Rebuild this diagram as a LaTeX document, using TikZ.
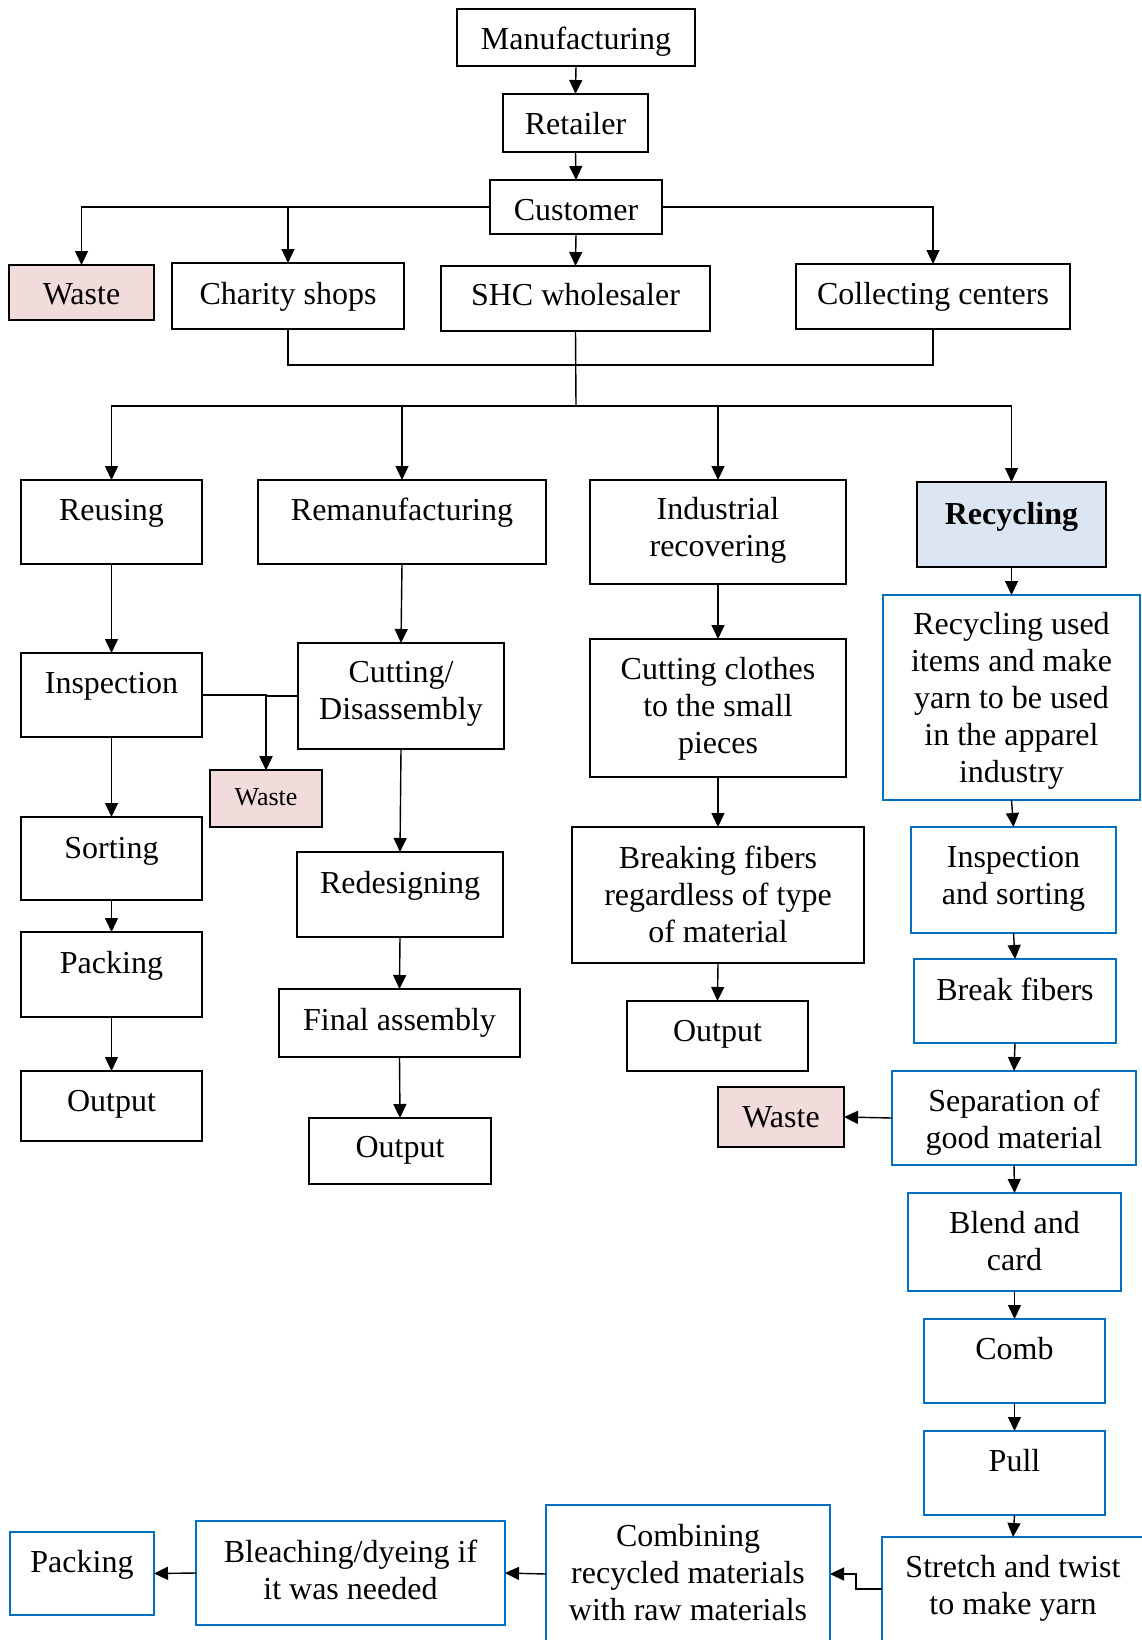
\documentclass[tikz,border=0pt]{standalone}
\usepackage{fontspec}
\setmainfont{Liberation Serif}
\usetikzlibrary{arrows.meta,calc}
\definecolor{myblue}{RGB}{0,112,192}
\definecolor{wastefill}{RGB}{242,220,219}
\definecolor{recfill}{RGB}{220,230,242}
% #1 box style, #2 name, #3 x1, #4 y1, #5 x2, #6 y2, #7 first baseline, #8 text
\newcommand\bx[8]{%
  \pgfmathsetmacro\bxw{#5-#3}%
  \pgfmathsetmacro\bxh{#6-#4}%
  \pgfmathsetmacro\bxcx{(#3+#5)/2}%
  \pgfmathsetmacro\bxcy{(#4+#6)/2}%
  \pgfmathsetmacro\bxty{#7-25.97}%
  \node[#1, minimum width=\bxw pt, minimum height=\bxh pt] (#2) at (\bxcx,\bxcy) {};
  \node[txt, anchor=north] (#2-t) at (\bxcx,\bxty) {#8};
}
\begin{document}
\begin{tikzpicture}[x=1pt,y=-1pt,
  bk/.style={draw=black, line width=1.5pt, inner sep=0pt, outer sep=0pt},
  bl/.style={draw=myblue, line width=1.8pt, inner sep=0pt, outer sep=0pt},
  wst/.style={bk, fill=wastefill},
  rcs/.style={bk, fill=recfill},
  txt/.style={inner sep=0pt, outer sep=0pt, align=center, font=\fontsize{32}{37.1}\selectfont, execute at begin node=\strut},
  arr/.style={line width=1.4pt, -{Triangle[length=14pt,width=13pt]}},
  ln/.style={line width=1.4pt}]
\useasboundingbox (0,0) rectangle (1141,1640);

% top chain
\bx{bk}{man}{457}{9}{695}{66}{49.5}{Manufacturing}
\bx{bk}{ret}{503}{94}{648}{152}{134.5}{Retailer}
\bx{bk}{cus}{490}{180}{662}{234}{220.5}{Customer}
\bx{wst}{w1}{9}{265}{154}{320}{304.5}{Waste}
\bx{bk}{cha}{172}{263}{404}{329}{304.5}{Charity shops}
\bx{bk}{shc}{441}{266}{710}{331}{305.5}{SHC wholesaler}
\bx{bk}{col}{796}{264}{1070}{329}{304.5}{Collecting centers}

% second level
\bx{bk}{reu}{21}{480}{202}{564}{520}{Reusing}
\bx{bk}{rem}{258}{480}{546}{564}{520}{Remanufacturing}
\bx{bk}{ind}{590}{480}{846}{584}{523}{Industrial\\recovering}
\bx{rcs}{rcy}{917}{482}{1106}{567}{524.5}{\textbf{Recycling}}

% reusing column
\bx{bk}{ins}{21}{653}{202}{737}{693.5}{Inspection}
\bx{bk}{sor}{21}{817}{202}{900}{858.5}{Sorting}
\bx{bk}{pac}{21}{932}{202}{1017}{973.5}{Packing}
\bx{bk}{out1}{21}{1071}{202}{1141}{1111.5}{Output}
\bx{wst}{w2}{210}{770}{322}{827}{805}{\fontsize{26}{37.1}\selectfont Waste}

% remanufacturing column
\bx{bk}{cut}{298}{643}{504}{749}{687}{Cutting/\\Disassembly}
\bx{bk}{red}{297}{852}{503}{937}{893.5}{Redesigning}
\bx{bk}{fin}{279}{989}{520}{1057}{1030}{Final assembly}
\bx{bk}{out2}{309}{1118}{491}{1184}{1157.5}{Output}

% industrial column
\bx{bk}{cc}{590}{639}{846}{777}{683}{Cutting clothes\\to the small\\pieces}
\bx{bk}{brk}{572}{827}{864}{963}{871.5}{Breaking fibers\\regardless of type\\of material}
\bx{bk}{out3}{627}{1001}{808}{1071}{1041}{Output}
\bx{wst}{w3}{718}{1087}{844}{1147}{1127.5}{Waste}

% recycling column
\bx{bl}{ru}{883}{595}{1140}{800}{638}{Recycling used\\items and make\\yarn to be used\\in the apparel\\industry}
\bx{bl}{ias}{911}{827}{1116}{933}{872}{Inspection\\and sorting}
\bx{bl}{bf}{914}{959}{1116}{1043}{1000}{Break fibers}
\bx{bl}{sep}{892}{1071}{1136}{1165}{1115}{Separation of\\good material}
\bx{bl}{bac}{908}{1193}{1121}{1291}{1237}{Blend and\\card}
\bx{bl}{cmb}{924}{1319}{1105}{1403}{1359}{Comb}
\bx{bl}{pul}{924}{1431}{1105}{1515}{1471}{Pull}
\bx{bl}{str}{882}{1537}{1144}{1662}{1581}{Stretch and twist\\to make yarn}
\bx{bl}{com}{546}{1505}{830}{1662}{1550}{Combining\\recycled materials\\with raw materials}
\bx{bl}{ble}{196}{1521}{505}{1625}{1565.5}{Bleaching/dyeing if\\it was needed}
\bx{bl}{pk2}{10}{1532}{154}{1615}{1572.5}{Packing}

% coordinates
\coordinate (bus1) at (576,365);
\coordinate (hub) at (576,406);

% connectors: top
\draw[arr] (man.south) -- (ret.north);
\draw[arr] (ret.south) -- (cus.north);
\draw[arr] (cus.south) -- (shc.north);
\draw[arr] (cus.west) -| (w1.north);
\draw[arr] (cus.west) -| (cha.north);
\draw[arr] (cus.east) -| (col.north);
\draw[ln] (cha.south) |- (bus1) -| (col.south);
\draw[ln] (shc.south) -- (hub);
\draw[arr] (hub) -| (reu.north);
\draw[arr] (hub) -| (rem.north);
\draw[arr] (hub) -| (ind.north);
\draw[arr] (hub) -| (rcy.north);

% reusing
\draw[arr] (reu.south) -- (ins.north);
\draw[arr] (ins.south) -- (sor.north);
\draw[arr] (sor.south) -- (pac.north);
\draw[arr] (pac.south) -- (out1.north);
\draw[arr] (ins.east) -| (w2.north);
\draw[arr] (cut.west) -| (w2.north);

% remanufacturing
\draw[arr] (rem.south) -- (cut.north);
\draw[arr] (cut.south) -- (red.north);
\draw[arr] (red.south) -- (fin.north);
\draw[arr] (fin.south) -- (out2.north);

% industrial
\draw[arr] (ind.south) -- (cc.north);
\draw[arr] (cc.south) -- (brk.north);
\draw[arr] (brk.south) -- (out3.north);

% recycling
\draw[arr] (rcy.south) -- (ru.north);
\draw[arr] (ru.south) -- (ias.north);
\draw[arr] (ias.south) -- (bf.north);
\draw[arr] (bf.south) -- (sep.north);
\draw[arr] (sep.west) -- (w3.east);
\draw[arr] (sep.south) -- (bac.north);
\draw[arr] (bac.south) -- (cmb.north);
\draw[arr] (cmb.south) -- (pul.north);
\draw[arr] (pul.south) -- (str.north);
\draw[arr] ($(str.north west)+(0,52)$) -- ++(-26,0) |- ($(com.north east)+(0,69)$);
\draw[arr] ($(com.north west)+(0,69)$) -- (ble.east);
\draw[arr] (ble.west) -- (pk2.east);
\end{tikzpicture}
\end{document}
